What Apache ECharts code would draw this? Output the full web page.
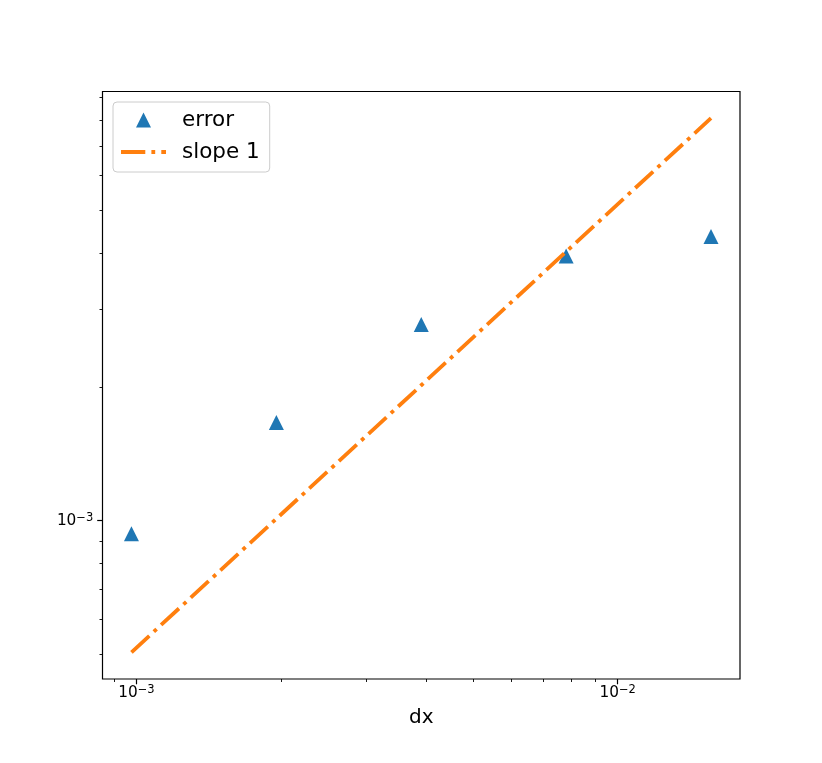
<!DOCTYPE html>
<html>
<head>
<meta charset="utf-8">
<script src="https://cdn.jsdelivr.net/npm/echarts@6/dist/echarts.min.js"></script>
<style>
html,body{margin:0;padding:0;background:#fff;}
#chart{width:822px;height:763px;}
</style>
</head>
<body>
<div id="chart"></div>
<script>
// ---- data ----
var dx = [1/1024, 1/512, 1/256, 1/128, 1/64];
var errorValues = [9.34e-4, 1.665e-3, 2.769e-3, 3.952e-3, 4.372e-3];
var slopeValues = [5.05e-4, 1.01e-3, 2.02e-3, 4.04e-3, 8.08e-3];
var xMajorTicks = [1e-3, 1e-2];
var xMinorTicks = [9e-4, 2e-3, 3e-3, 4e-3, 5e-3, 6e-3, 7e-3, 8e-3, 9e-3];
var yMajorTicks = [1e-3];
var yMinorTicks = [5e-4, 6e-4, 7e-4, 8e-4, 9e-4, 2e-3, 3e-3, 4e-3, 5e-3, 6e-3, 7e-3, 8e-3, 9e-3];
var seriesNames = ['error', 'slope 1'];
var xName = 'dx';

var FONT = 'DejaVu Sans';
var xMin = 8.502e-4, xMax = 0.017950;
var yMin = 4.396e-4, yMax = 9.282e-3;

function sciLabel(v) {
  var e = Math.round(Math.log10(v));
  var es = (e < 0 ? '\u2212' : '') + Math.abs(e);
  return '{b|10}{s|' + es + '}';
}
var richLab = {
  b: {fontFamily: FONT, fontSize: 15.3, lineHeight: 18, color: '#000'},
  s: {fontFamily: FONT, fontSize: 11.5, lineHeight: 10, verticalAlign: 'top', color: '#000'}
};

var chart = echarts.init(document.getElementById('chart'), null, {renderer: 'canvas'});

var triIcon = 'path://M0,0M45,15M15,15L22.5,0L30,15Z';
var lineIcon = 'path://M0,0M45,15M0,5.6h24.3v3.8h-24.3zM30.4,5.6h3.8v3.8h-3.8zM40.3,5.6h4.7v3.8h-4.7z';

function makeAxisPair(isX, min, max, majors, minors) {
  var main = {
    type: 'log', logBase: 10, min: min, max: max, gridIndex: 0,
    position: isX ? 'bottom' : 'left',
    axisLine: {show: false},
    splitLine: {show: false},
    minorTick: {show: false},
    axisTick: {show: true, inside: false, length: 5.3, customValues: majors,
               lineStyle: {color: '#000', width: 1.2}},
    axisLabel: {show: true, customValues: majors, margin: isX ? 5.5 : 9.2,
                formatter: sciLabel, rich: richLab, color: '#000'}
  };
  if (isX) {
    main.name = xName;
    main.nameLocation = 'middle';
    main.nameGap = 29;
    main.nameTextStyle = {fontFamily: FONT, fontSize: 20, color: '#000'};
  }
  var minor = {
    type: 'log', logBase: 10, min: min, max: max, gridIndex: 0,
    position: isX ? 'bottom' : 'left',
    axisLine: {show: false},
    splitLine: {show: false},
    axisLabel: {show: false},
    axisTick: {show: true, inside: false, length: 3, customValues: minors,
               lineStyle: {color: '#000', width: 0.9}}
  };
  return [main, minor];
}

var option = {
  backgroundColor: '#ffffff',
  animation: false,
  textStyle: {fontFamily: FONT},
  grid: {left: 102.5, top: 91.5, width: 637.5, height: 587.5, show: true,
         borderColor: '#000', borderWidth: 1.2, backgroundColor: 'transparent',
         containLabel: false},
  xAxis: makeAxisPair(true, xMin, xMax, xMajorTicks, xMinorTicks),
  yAxis: makeAxisPair(false, yMin, yMax, yMajorTicks, yMinorTicks),
  legend: {
    orient: 'vertical', left: 113, top: 102, padding: [6, 10, 8, 8],
    itemGap: 8, itemWidth: 45, itemHeight: 15,
    backgroundColor: 'rgba(255,255,255,0.8)', borderColor: '#cccccc',
    borderWidth: 1, borderRadius: 4,
    textStyle: {fontFamily: FONT, fontSize: 21.5, color: '#000', lineHeight: 24,
                padding: [0, 0, 0, 11]},
    data: [{name: seriesNames[0], icon: triIcon}, {name: seriesNames[1], icon: lineIcon}]
  },
  series: [
    {
      name: seriesNames[0], type: 'scatter', xAxisIndex: 0, yAxisIndex: 0,
      symbol: 'triangle', symbolSize: 15,
      itemStyle: {color: '#1f77b4', opacity: 1},
      data: dx.map(function (d, i) { return [d, errorValues[i]]; })
    },
    {
      name: seriesNames[1], type: 'line', xAxisIndex: 0, yAxisIndex: 0,
      symbol: 'none', showSymbol: false,
      itemStyle: {color: '#ff7f0e'},
      lineStyle: {color: '#ff7f0e', width: 3.8, type: [24.3, 6.1, 3.8, 6.1], cap: 'butt'},
      data: dx.map(function (d, i) { return [d, slopeValues[i]]; })
    }
  ]
};
chart.setOption(option);
</script>
</body>
</html>
